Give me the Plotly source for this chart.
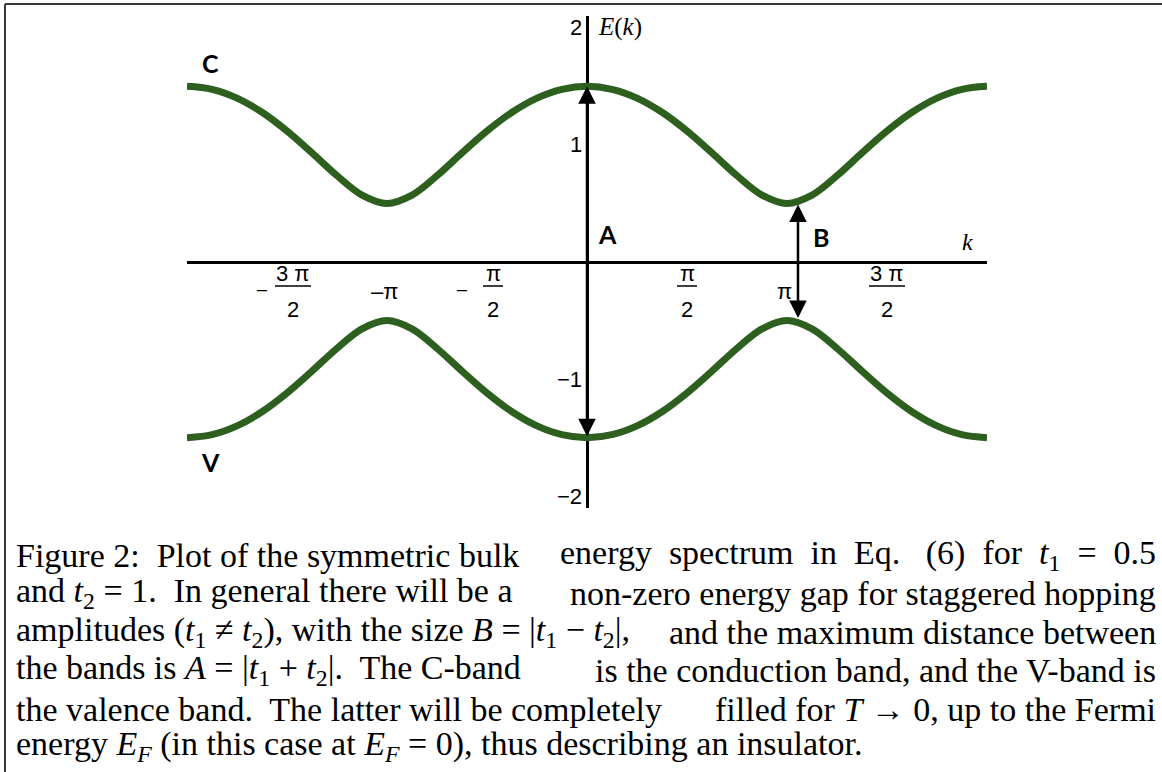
import plotly.graph_objects as go

# Wave number k in units of pi, sampled every pi/8 over [-2pi, 2pi]
k_over_pi = [-2.0, -1.875, -1.75, -1.625, -1.5, -1.375, -1.25, -1.125, -1.0,
             -0.875, -0.75, -0.625, -0.5, -0.375, -0.25, -0.125, 0.0,
             0.125, 0.25, 0.375, 0.5, 0.625, 0.75, 0.875, 1.0,
             1.125, 1.25, 1.375, 1.5, 1.625, 1.75, 1.875, 2.0]

# Conduction band (C) energies
E_conduction = [1.5, 1.474, 1.399, 1.278, 1.118, 0.931, 0.737, 0.571, 0.5,
                0.571, 0.737, 0.931, 1.118, 1.278, 1.399, 1.474, 1.5,
                1.474, 1.399, 1.278, 1.118, 0.931, 0.737, 0.571, 0.5,
                0.571, 0.737, 0.931, 1.118, 1.278, 1.399, 1.474, 1.5]

# Valence band (V) energies
E_valence = [-1.5, -1.474, -1.399, -1.278, -1.118, -0.931, -0.737, -0.571, -0.5,
             -0.571, -0.737, -0.931, -1.118, -1.278, -1.399, -1.474, -1.5,
             -1.474, -1.399, -1.278, -1.118, -0.931, -0.737, -0.571, -0.5,
             -0.571, -0.737, -0.931, -1.118, -1.278, -1.399, -1.474, -1.5]

# Tick labels on the k axis: (position/pi, sign, numerator, denominator)
x_ticks = [(-1.5, "\u2013", "3 \u03c0", "2"),
           (-1.0, "\u2013", "\u03c0", ""),
           (-0.5, "\u2013", "\u03c0", "2"),
           (0.5, "", "\u03c0", "2"),
           (1.0, "", "\u03c0", ""),
           (1.5, "", "3 \u03c0", "2")]

# Tick labels on the E axis
y_tick_vals = [2, 1, -1, -2]
y_tick_text = ["2", "1", "\u22121", "\u22122"]

# Gap markers: A (maximum distance at k=0), B (gap near k=pi)
arrow_A = (0.0, 1.5, -1.5)
arrow_B = (1.055, 0.49, -0.49)

band_labels = [("C", -1.885, 1.70), ("V", -1.885, -1.71),
               ("A", 0.10, 0.24), ("B", 1.17, 0.21)]

caption_lines = [
    ("Figure 2:  Plot of the symmetric bulk",
     "energy  spectrum  in  Eq.   (6)  for  <i>t</i><sub>1</sub>  =  0.5"),
    ("and <i>t</i><sub>2</sub> = 1.  In general there will be a",
     "non-zero energy gap for staggered hopping"),
    ("amplitudes (<i>t</i><sub>1</sub> \u2260 <i>t</i><sub>2</sub>), with the size <i>B</i> = |<i>t</i><sub>1</sub> \u2212 <i>t</i><sub>2</sub>|,",
     "and the maximum distance between"),
    ("the bands is <i>A</i> = |<i>t</i><sub>1</sub> + <i>t</i><sub>2</sub>|.  The C-band",
     "is the conduction band, and the V-band is"),
    ("the valence band.  The latter will be completely",
     "filled for <i>T</i> \u2192 0, up to the Fermi"),
    ("energy <i>E<sub>F</sub></i> (in this case at <i>E<sub>F</sub></i> = 0), thus describing an insulator.",
     ""),
]

W, H = 1162, 772
GREEN = "#2d5f1f"
SANS = "Liberation Sans, Arial, sans-serif"
SERIF = "Liberation Serif, Times New Roman, serif"
TICK_SIZE = 22
CAPTION_SIZE = 34

fig = go.Figure()
fig.add_trace(go.Scatter(x=k_over_pi, y=E_conduction, mode="lines",
                         line=dict(color=GREEN, width=7, shape="spline"),
                         hoverinfo="skip"))
fig.add_trace(go.Scatter(x=k_over_pi, y=E_valence, mode="lines",
                         line=dict(color=GREEN, width=7, shape="spline"),
                         hoverinfo="skip"))

annotations = []
shapes = []

# Tick labels along k
for pos, sign, num, den in x_ticks:
    if den:
        cx_shift = 6 if sign else 0
        annotations.append(dict(x=pos, y=0, xref="x", yref="y", text=num,
                                showarrow=False, xshift=cx_shift, yshift=-11,
                                font=dict(family=SANS, size=TICK_SIZE, color="black")))
        annotations.append(dict(x=pos, y=0, xref="x", yref="y", text=den,
                                showarrow=False, xshift=cx_shift, yshift=-47,
                                font=dict(family=SANS, size=TICK_SIZE, color="black")))
        half = 18 if len(num) > 1 else 10
        shapes.append(dict(type="line", xref="x", yref="y",
                           xsizemode="pixel", ysizemode="pixel",
                           xanchor=pos, yanchor=0,
                           x0=cx_shift - half, x1=cx_shift + half, y0=-24, y1=-24,
                           line=dict(color="black", width=1.5)))
        if sign:
            annotations.append(dict(x=pos, y=0, xref="x", yref="y", text=sign,
                                    showarrow=False, xshift=-25, yshift=-27,
                                    font=dict(family=SANS, size=18, color="black")))
    else:
        txt = (sign + num) if sign else num
        annotations.append(dict(x=pos, y=0, xref="x", yref="y", text=txt,
                                showarrow=False, xshift=-3, yshift=-29,
                                font=dict(family=SANS, size=TICK_SIZE, color="black")))

# Tick labels along E
for v, t in zip(y_tick_vals, y_tick_text):
    annotations.append(dict(x=0, y=v, xref="x", yref="y", text=t, showarrow=False,
                            xanchor="right", xshift=-3,
                            font=dict(family=SANS, size=TICK_SIZE, color="black")))

# Axis names
annotations.append(dict(x=0, y=2, xref="x", yref="y", text="<i>E</i>(<i>k</i>)",
                        showarrow=False, xanchor="left", xshift=9, yshift=1,
                        font=dict(family=SERIF, size=25, color="black")))
annotations.append(dict(x=1.9, y=0, xref="x", yref="y", text="<i>k</i>",
                        showarrow=False, yshift=20,
                        font=dict(family=SERIF, size=24, color="black")))

# Band / gap labels
for txt, xv, yv in band_labels:
    annotations.append(dict(x=xv, y=yv, xref="x", yref="y", text="<b>%s</b>" % txt,
                            showarrow=False,
                            font=dict(family="Lato, Open Sans, sans-serif", size=25,
                                      color="black")))

# Double-headed arrows for A and B
for xv, ytop, ybot in (arrow_A, arrow_B):
    annotations.append(dict(x=xv, y=ytop, ax=xv, ay=ybot, xref="x", yref="y",
                            axref="x", ayref="y", text="", showarrow=True,
                            arrowhead=2, startarrowhead=2, arrowside="end+start",
                            arrowsize=1.4, startarrowsize=1.4, arrowwidth=2.5,
                            arrowcolor="black"))

# Caption, justified by anchoring halves to both margins
line_y = [555, 593, 632, 670, 709, 746]
for (left, right), py in zip(caption_lines, line_y):
    yp = 1 - py / H
    annotations.append(dict(x=14 / W, y=yp, xref="paper", yref="paper", text=left,
                            showarrow=False, xanchor="left", yanchor="middle",
                            font=dict(family=SERIF, size=CAPTION_SIZE, color="black")))
    if right:
        annotations.append(dict(x=1158 / W, y=yp, xref="paper", yref="paper",
                                text=right, showarrow=False, xanchor="right",
                                yanchor="middle",
                                font=dict(family=SERIF, size=CAPTION_SIZE,
                                          color="black")))

# Frame lines on top and left
shapes.append(dict(type="line", xref="paper", yref="paper", x0=5 / W, x1=1,
                   y0=1 - 4 / H, y1=1 - 4 / H, line=dict(color="#3a3a3a", width=2)))
shapes.append(dict(type="line", xref="paper", yref="paper", x0=5 / W, x1=5 / W,
                   y0=1 - 4 / H, y1=0, line=dict(color="#3a3a3a", width=2)))

fig.update_layout(
    width=W, height=H,
    margin=dict(l=0, r=0, t=0, b=0),
    paper_bgcolor="white", plot_bgcolor="white",
    showlegend=False,
    annotations=annotations,
    shapes=shapes,
    xaxis=dict(range=[-2, 2], domain=[187 / W, 987 / W], showgrid=False,
               zeroline=True, zerolinecolor="black", zerolinewidth=3,
               showticklabels=False, ticks="", showline=False, fixedrange=True),
    yaxis=dict(range=[-2.1, 2.1], domain=[1 - 508 / H, 1 - 16 / H], showgrid=False,
               zeroline=True, zerolinecolor="black", zerolinewidth=3,
               showticklabels=False, ticks="", showline=False, fixedrange=True),
)

fig.write_html("out.html")
